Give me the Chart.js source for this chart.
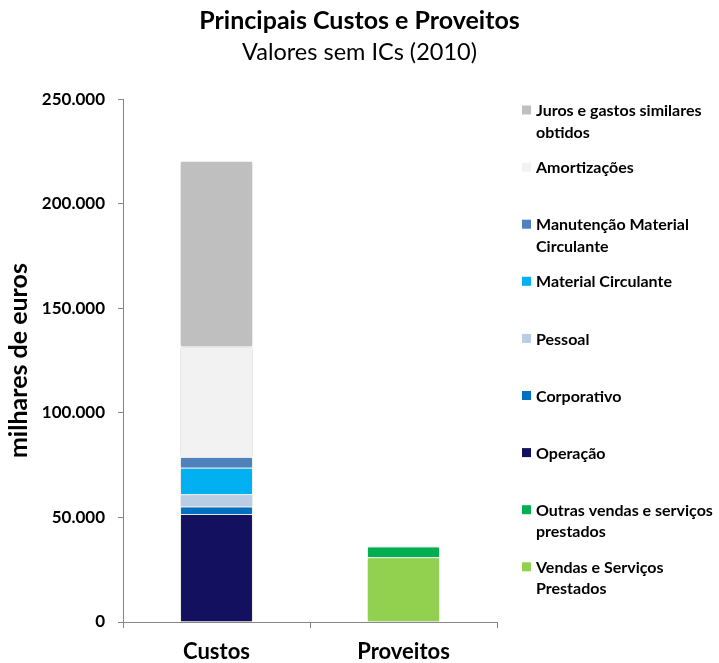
<!DOCTYPE html>
<html>
<head>
<meta charset="utf-8">
<script src="https://cdn.jsdelivr.net/npm/chart.js@4"></script>
<style>
  html, body { margin: 0; padding: 0; background: #fff; }
</style>
</head>
<body>
<canvas id="chart" width="719" height="663"></canvas>
<script>
// dados (milhares de euros)
const categories = ['Custos', 'Proveitos'];
const vendasServicos = [null, 30950];
const outrasVendas = [null, 5100];
const operacao = [51600, null];
const corporativo = [3600, null];
const pessoal = [5900, null];
const materialCirculante = [12700, null];
const manutencao = [5100, null];
const amortizacoes = [52900, null];
const juros = [88600, null];
const yTicks = [0, 50000, 100000, 150000, 200000, 250000];

const FONT = 'Lato, "Open Sans", sans-serif';

const series = [
  { label: 'Vendas e Serviços Prestados', data: vendasServicos, color: '#92d050' },
  { label: 'Outras vendas e serviços prestados', data: outrasVendas, color: '#00b050' },
  { label: 'Operação', data: operacao, color: '#141060' },
  { label: 'Corporativo', data: corporativo, color: '#0070c0' },
  { label: 'Pessoal', data: pessoal, color: '#b9cde5' },
  { label: 'Material Circulante', data: materialCirculante, color: '#00b0f0' },
  { label: 'Manutenção Material Circulante', data: manutencao, color: '#4f81bd' },
  { label: 'Amortizações', data: amortizacoes, color: '#f2f2f2' },
  { label: 'Juros e gastos similares obtidos', data: juros, color: '#bfbfbf' },
];

function fmt(v) {
  return String(v).replace(/\B(?=(\d{3})+(?!\d))/g, '.');
}

// quebra o texto da legenda em linhas
function wrap(ctx, text, maxW) {
  const words = text.split(' ');
  const lines = [];
  let line = '';
  words.forEach(w => {
    const test = line ? line + ' ' + w : w;
    if (ctx.measureText(test).width > maxW && line) {
      lines.push(line);
      line = w;
    } else {
      line = test;
    }
  });
  if (line) lines.push(line);
  return lines;
}

// legenda lateral desenhada à mão (a do Chart.js não parte linhas)
const sideLegend = {
  id: 'sideLegend',
  afterDraw(chart) {
    const ctx = chart.ctx;
    const x = 522, top = 110, step = 57.1, lh = 21.5;
    ctx.save();
    ctx.font = 'bold 16px ' + FONT;
    ctx.textBaseline = 'middle';
    ctx.textAlign = 'left';
    const ds = chart.data.datasets;
    for (let i = ds.length - 1, n = 0; i >= 0; i--, n++) {
      const y = top + n * step;
      ctx.fillStyle = ds[i].backgroundColor;
      ctx.fillRect(x, y - 4.5, 9, 9);
      ctx.fillStyle = '#000';
      wrap(ctx, ds[i].label, 182).forEach((t, k) => {
        ctx.fillText(t, x + 14, y + 1 + k * lh);
      });
    }
    ctx.restore();
  }
};

// sombra leve nas barras, como no Excel
const barShadow = {
  id: 'barShadow',
  beforeDatasetsDraw(chart) {
    const ctx = chart.ctx;
    ctx.save();
    ctx.shadowColor = 'rgba(0,0,0,0.22)';
    ctx.shadowBlur = 5;
  },
  afterDatasetsDraw(chart) {
    chart.ctx.restore();
  }
};

new Chart(document.getElementById('chart'), {
  type: 'bar',
  data: {
    labels: categories,
    datasets: series.map(s => ({
      label: s.label,
      data: s.data,
      backgroundColor: s.color,
      borderColor: '#ffffff',
      borderWidth: 1,
      categoryPercentage: 1,
      barPercentage: 0.39,
    }))
  },
  options: {
    responsive: false,
    animation: false,
    layout: { padding: 0 },
    plugins: {
      legend: { display: false },
      tooltip: { enabled: false },
      title: {
        display: true,
        text: 'Principais Custos e Proveitos',
        color: '#000',
        font: { family: FONT, size: 25, weight: 'bold' },
        padding: { top: 6, bottom: 0 }
      },
      subtitle: {
        display: true,
        text: 'Valores sem ICs (2010)',
        color: '#000',
        font: { family: FONT, size: 23.5 },
        padding: { top: 2, bottom: 33 }
      }
    },
    scales: {
      x: {
        stacked: true,
        grid: { drawOnChartArea: false, color: '#868686', tickLength: 6 },
        border: { color: '#868686', width: 1 },
        ticks: { color: '#000', padding: 11, font: { family: FONT, size: 22, weight: 'bold' } },
        afterFit: s => { s.height = 41; }
      },
      y: {
        stacked: true,
        min: 0,
        max: 250000,
        afterBuildTicks: s => { s.ticks = yTicks.map(v => ({ value: v })); },
        grid: { drawOnChartArea: false, color: '#868686', tickLength: 5 },
        border: { color: '#868686', width: 1 },
        ticks: {
          color: '#000',
          padding: 13,
          font: { family: FONT, size: 17, weight: 'bold' },
          callback: v => fmt(v)
        },
        title: {
          display: true,
          text: 'milhares de euros',
          color: '#000',
          font: { family: FONT, size: 25, weight: 'bold' },
          padding: { top: 4, bottom: 0 }
        },
        afterFit: s => { s.width = 123; }
      },
      // eixo vazio à direita só para reservar o espaço da legenda
      legendSpace: {
        type: 'linear',
        position: 'right',
        display: true,
        grid: { display: false },
        border: { display: false },
        ticks: { display: false },
        afterFit: s => { s.width = 222; }
      }
    }
  },
  plugins: [barShadow, sideLegend]
});
</script>
</body>
</html>
